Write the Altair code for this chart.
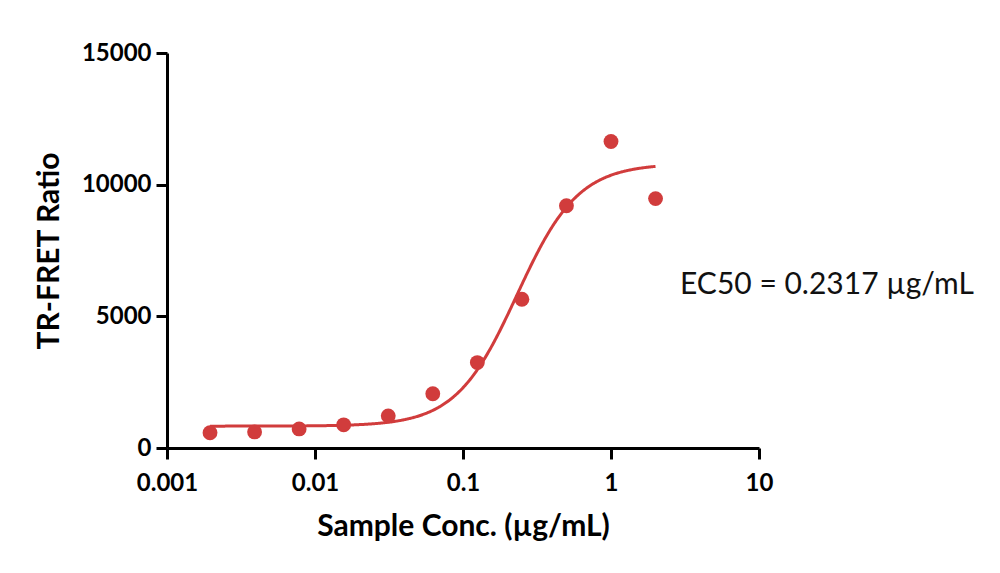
import altair as alt
import pandas as pd

# Measured points: two-fold serial dilution
conc = [1.953125e-3, 3.90625e-3, 7.8125e-3, 0.015625, 0.03125, 0.0625,
        0.125, 0.25, 0.5, 1.0, 2.0]
ratio = [580, 610, 725, 880, 1220, 2060, 3245, 5650, 9200, 11640, 9470]

# Four-parameter logistic fit
BOTTOM = 830
TOP = 10800
EC50 = 0.2317
HILL = 2.1

x_ticks = [0.001, 0.01, 0.1, 1, 10]
y_ticks = [0, 5000, 10000, 15000]

RED = "#d13c3c"
FONT = "Lato"

points = pd.DataFrame({"conc": conc, "ratio": ratio})

x_scale = alt.Scale(type="log", domain=[0.001, 10])
y_scale = alt.Scale(domain=[0, 15000])

x_axis = alt.Axis(values=x_ticks, format="~g", title="Sample Conc. (µg/mL)",
                  grid=False, tickSize=11, tickWidth=3, domainWidth=3,
                  labelFlush=False, labelPadding=12, titlePadding=16)
y_axis = alt.Axis(values=y_ticks, format="d", title="TR-FRET Ratio",
                  grid=False, tickSize=11, tickWidth=3, domainWidth=3,
                  labelFlush=False, labelPadding=5, titlePadding=17)

fit = alt.Chart(
    alt.sequence(start=-2.7093, stop=0.3011, step=0.005, as_="lx")
).transform_calculate(
    conc="pow(10, datum.lx)",
    ratio=f"{BOTTOM} + ({TOP} - {BOTTOM}) / (1 + pow({EC50} / datum.conc, {HILL}))",
).mark_line(color=RED, strokeWidth=3).encode(
    x=alt.X("conc:Q", scale=x_scale, axis=x_axis),
    y=alt.Y("ratio:Q", scale=y_scale, axis=y_axis),
)

dots = alt.Chart(points).mark_circle(color=RED, size=220, opacity=1).encode(
    x=alt.X("conc:Q", scale=x_scale),
    y=alt.Y("ratio:Q", scale=y_scale),
)

label = alt.Chart(pd.DataFrame({"t": [f"EC50 = {EC50} µg/mL"]})).mark_text(
    align="left", baseline="middle", font=FONT, fontSize=30, color="#111111"
).encode(x=alt.value(513), y=alt.value(232), text="t:N")

chart = alt.layer(fit, dots, label).properties(
    width=592, height=395,
    autosize=alt.AutoSizeParams(type="none"),
    padding={"left": 167, "top": 53, "right": 241, "bottom": 125},
).configure_view(stroke=None).configure_axis(
    domainColor="black", tickColor="black",
    labelFont=FONT, labelFontSize=24, labelFontWeight="bold", labelColor="black",
    titleFont=FONT, titleFontSize=30, titleFontWeight="bold", titleColor="black",
)

chart.save("out.html", embed_options={"renderer": "svg", "actions": False})
